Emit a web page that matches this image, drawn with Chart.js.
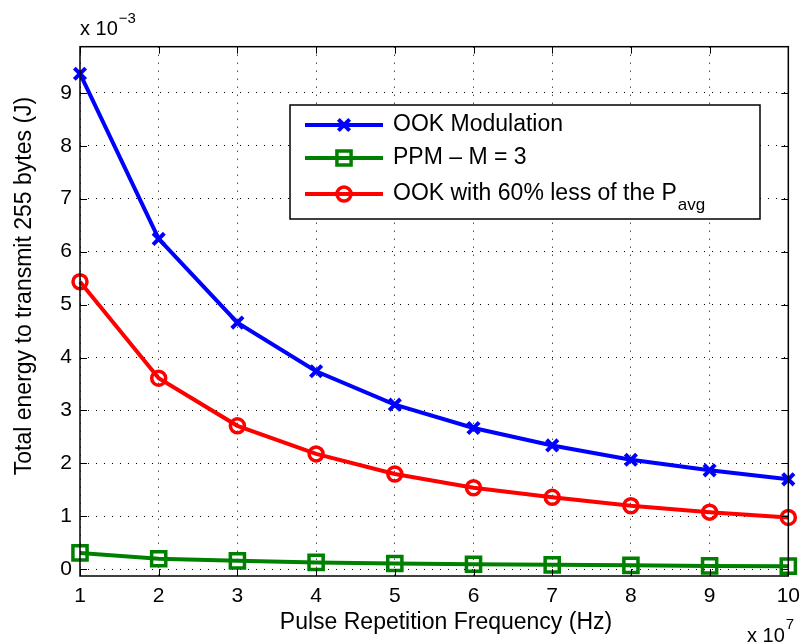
<!DOCTYPE html>
<html>
<head>
<meta charset="utf-8">
<script src="https://cdn.jsdelivr.net/npm/chart.js@4/dist/chart.umd.min.js"></script>
<style>
  body { margin: 0; background: #fff; }
  canvas { display: block; }
</style>
</head>
<body>
<canvas id="myChart" width="808" height="644"></canvas>
<script>
// x values in units of 10^7 Hz, y values in units of 10^-3 J
const freq = [1, 2, 3, 4, 5, 6, 7, 8, 9, 10];
const ookEnergy = [9.36, 6.24, 4.66, 3.74, 3.11, 2.67, 2.34, 2.07, 1.87, 1.70];
const ppmEnergy = [0.31, 0.20, 0.16, 0.13, 0.11, 0.095, 0.085, 0.075, 0.065, 0.06];
const ook60Energy = [5.43, 3.61, 2.71, 2.18, 1.80, 1.54, 1.36, 1.20, 1.08, 0.98];
const xTicks = [1, 2, 3, 4, 5, 6, 7, 8, 9, 10];
const yTicks = [0, 1, 2, 3, 4, 5, 6, 7, 8, 9];
const seriesNames = ["OOK Modulation", "PPM \u2013 M = 3", "OOK with 60% less of the P"];

const FONT = "'Liberation Sans', Arial, Helvetica, sans-serif";

function toPoints(ys) {
  return freq.map(function (x, i) {
    return { x: x, y: ys[i] };
  });
}

// MATLAB style axes: box, inner ticks, labels, legend
const matlabAxes = {
  id: "matlabAxes",
  afterDraw: function (chart) {
    const ctx = chart.ctx;
    const a = chart.chartArea;
    const xs = chart.scales.x;
    const ys = chart.scales.y;
    ctx.save();

    // inner ticks
    ctx.strokeStyle = "#000";
    ctx.lineWidth = 1;
    ctx.beginPath();
    xTicks.forEach(function (v) {
      const px = Math.round(xs.getPixelForValue(v)) + 0.5;
      ctx.moveTo(px, a.bottom); ctx.lineTo(px, a.bottom - 7);
      ctx.moveTo(px, a.top); ctx.lineTo(px, a.top + 7);
    });
    yTicks.forEach(function (v) {
      const py = Math.round(ys.getPixelForValue(v)) + 0.5;
      ctx.moveTo(a.left, py); ctx.lineTo(a.left + 7, py);
      ctx.moveTo(a.right, py); ctx.lineTo(a.right - 7, py);
    });
    ctx.stroke();

    // box
    ctx.lineWidth = 1.5;
    ctx.strokeRect(a.left, a.top, a.right - a.left, a.bottom - a.top);

    // axis titles
    ctx.fillStyle = "#000";
    ctx.font = "23px " + FONT;
    ctx.textAlign = "center";
    ctx.textBaseline = "middle";
    ctx.fillText("Pulse Repetition Frequency (Hz)", 446, 623);
    ctx.save();
    ctx.translate(25, 286);
    ctx.rotate(-Math.PI / 2);
    ctx.fillText("Total energy to transmit 255 bytes (J)", 0, 0);
    ctx.restore();

    // exponents
    ctx.textAlign = "left";
    ctx.textBaseline = "alphabetic";
    ctx.font = "20px " + FONT;
    ctx.fillText("x 10", 80, 35);
    let w = ctx.measureText("x 10").width;
    ctx.font = "15px " + FONT;
    ctx.fillText("\u22123", 80 + w + 1, 23);
    ctx.font = "20px " + FONT;
    ctx.fillText("x 10", 747, 642);
    w = ctx.measureText("x 10").width;
    ctx.font = "15px " + FONT;
    ctx.fillText("7", 747 + w + 1, 629);

    // legend
    const lx = 290, ly = 105, lw = 470, lh = 114;
    ctx.fillStyle = "#fff";
    ctx.fillRect(lx, ly, lw, lh);
    ctx.strokeStyle = "#000";
    ctx.lineWidth = 1.5;
    ctx.strokeRect(lx, ly, lw, lh);
    const rows = [125, 158, 194];
    chart.data.datasets.forEach(function (ds, i) {
      const y = rows[i];
      ctx.strokeStyle = ds.borderColor;
      ctx.lineWidth = ds.borderWidth;
      ctx.beginPath();
      ctx.moveTo(305, y);
      ctx.lineTo(383, y);
      ctx.stroke();
      ctx.fillStyle = "rgba(0,0,0,0)";
      ctx.lineWidth = ds.pointBorderWidth;
      Chart.helpers.drawPoint(ctx, {
        pointStyle: ds.pointStyle,
        radius: ds.pointRadius,
        borderWidth: ds.pointBorderWidth,
        rotation: 0
      }, 344, y);
      ctx.fillStyle = "#000";
      ctx.font = "23px " + FONT;
      ctx.textAlign = "left";
      ctx.textBaseline = "middle";
      ctx.fillText(seriesNames[i], 393, y);
      if (i === 2) {
        const tw = ctx.measureText(seriesNames[i]).width;
        ctx.font = "17px " + FONT;
        ctx.fillText("avg", 393 + tw + 1, y + 11);
      }
    });
    ctx.restore();
  }
};

const ctx = document.getElementById("myChart");
const myChart = new Chart(ctx, {
  type: "line",
  data: {
    datasets: [
      {
        label: seriesNames[0],
        data: toPoints(ookEnergy),
        borderColor: "rgb(0, 0, 255)",
        backgroundColor: "rgb(0, 0, 255)",
        borderWidth: 4,
        pointStyle: "crossRot",
        pointRadius: 8,
        pointBorderWidth: 4,
        clip: false,
      },
      {
        label: seriesNames[1],
        data: toPoints(ppmEnergy),
        borderColor: "rgb(0, 128, 0)",
        backgroundColor: "rgba(0, 0, 0, 0)",
        borderWidth: 4,
        pointStyle: "rect",
        pointRadius: 10,
        pointBorderWidth: 3.5,
        clip: false,
      },
      {
        label: seriesNames[2],
        data: toPoints(ook60Energy),
        borderColor: "rgb(255, 0, 0)",
        backgroundColor: "rgba(0, 0, 0, 0)",
        borderWidth: 4,
        pointStyle: "circle",
        pointRadius: 7,
        pointBorderWidth: 3.5,
        clip: false,
      },
    ],
  },
  options: {
    responsive: false,
    animation: false,
    events: [],
    layout: {
      padding: { left: 0, top: 46.7, right: 10.3, bottom: 0 },
    },
    elements: {
      line: { tension: 0 },
    },
    scales: {
      x: {
        type: "linear",
        min: 1,
        max: 10,
        afterBuildTicks: function (scale) {
          scale.ticks = xTicks.map(function (v) { return { value: v }; });
        },
        afterFit: function (scale) { scale.height = 68; },
        grid: { color: "#000", lineWidth: 1, drawTicks: false },
        border: { display: false, dash: [1, 7] },
        ticks: {
          padding: 8,
          color: "#000",
          font: { family: FONT, size: 21 },
          maxRotation: 0,
        },
      },
      y: {
        type: "linear",
        min: -0.126,
        max: 9.87,
        afterBuildTicks: function (scale) {
          scale.ticks = yTicks.map(function (v) { return { value: v }; });
        },
        afterFit: function (scale) { scale.width = 80; },
        grid: { color: "#000", lineWidth: 1, drawTicks: false },
        border: { display: false, dash: [1, 7] },
        ticks: {
          padding: 8,
          color: "#000",
          font: { family: FONT, size: 21 },
        },
      },
    },
    plugins: {
      legend: { display: false },
      tooltip: { enabled: false },
      title: { display: false },
    },
  },
  plugins: [matlabAxes],
});
</script>
</body>
</html>
